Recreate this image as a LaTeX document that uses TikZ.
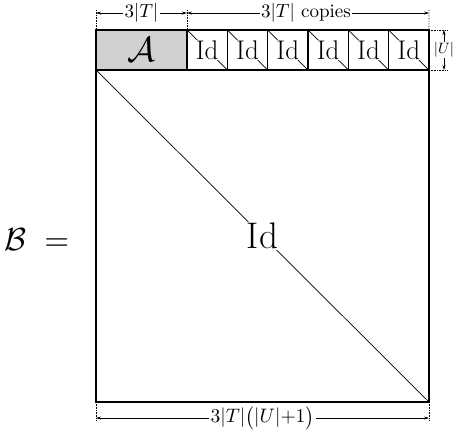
\documentclass[tikz,border=0pt]{standalone}
\usepackage{graphicx}
\usetikzlibrary{arrows.meta}
\begin{document}
\begin{tikzpicture}[x=1pt,y=-1pt,
  cell/.style={draw,line width=1.25pt,minimum width=40.33pt,minimum height=40pt,inner sep=0pt,outer sep=0pt},
  lbl/.style={fill=white,inner sep=1pt},
  dim/.style={line width=0.6pt,{Stealth[length=5pt,width=3pt]}-{Stealth[length=5pt,width=3pt]}},
  ext/.style={line width=0.6pt,densely dotted},
  diag/.style={line width=0.7pt},
  dimtxt/.style={fill=white,inner sep=1.5pt}
]
\useasboundingbox (0,0) rectangle (456,435);
% cells
\node[cell,fill=black!18,minimum width=91pt] (A) at (141.5,50) {};
\foreach \i in {1,...,6}{
  \node[cell] (c\i) at ({187+40.33*(\i-0.5)},50) {};
  \draw[diag] (c\i.north west) -- (c\i.south east);
  \node[lbl,font=\fontsize{27}{29}\selectfont,inner sep=0.2pt] at (c\i.center) {Id};
}
\node at (A.center) {\scalebox{3.5}{$\mathcal{A}$}};
\node[draw,line width=1.25pt,minimum width=333pt,minimum height=332pt,inner sep=0pt,outer sep=0pt] (big) at (262.5,236) {};
\draw[diag] (big.north west) -- (big.south east);
\node[lbl,font=\fontsize{37}{39}\selectfont,inner sep=1pt] (bigid) at (big.center) {Id};
% B =
\node (B) at (37,240) {\scalebox{3.2}{$\mathcal{B}\;=$}};
% extension lines
\coordinate (t0) at (96,10); \coordinate (t1) at (187,10); \coordinate (t2) at (429,10);
\draw[ext] (A.north west) -- (t0);
\draw[ext] (A.north east) -- (t1);
\draw[ext] (c6.north east) -- (t2);
\coordinate (r0) at (448,30); \coordinate (r1) at (448,70);
\draw[ext] (c6.north east) -- (r0);
\draw[ext] (c6.south east) -- (r1);
\coordinate (b0) at (96,421); \coordinate (b1) at (429,421);
\draw[ext] (big.south west) -- (b0);
\draw[ext] (big.south east) -- (b1);
% dimension arrows
\coordinate (d0) at (96,13); \coordinate (d1) at (187,13); \coordinate (d2) at (429,13);
\draw[dim] (d0) -- (d1) node[midway,dimtxt] {\scalebox{1.9}{$3|T|$}};
\draw[dim] (d1) -- (d2) node[midway,dimtxt,xshift=-2pt] {\scalebox{1.9}{$3|T|$ copies}};
\coordinate (u0) at (444,30); \coordinate (u1) at (444,70);
\draw[dim] (u0) -- (u1) node[midway,dimtxt,inner sep=0.2pt] {\scalebox{1.5}{$|U|$}};
\coordinate (e0) at (96,418); \coordinate (e1) at (429,418);
\draw[dim] (e0) -- (e1) node[midway,dimtxt] {\scalebox{1.95}{$3|T|\bigl(|U|{+}1\bigr)$}};
\end{tikzpicture}
\end{document}
